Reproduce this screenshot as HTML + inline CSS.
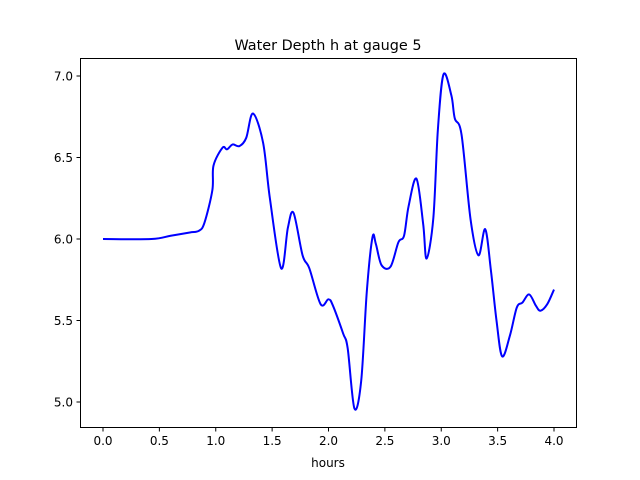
<!DOCTYPE html>
<html><head><meta charset="utf-8"><style>body{margin:0;background:#fff}svg{display:block;font-family:"DejaVu Sans","Liberation Sans",sans-serif}</style></head>
<body>
<svg width="640" height="480">
<rect width="640" height="480" fill="#fff"/>
<text x="328" y="50" font-size="14.4" text-anchor="middle">Water Depth h at gauge 5</text>
<g id="axes"></g>
<path id="line" fill="none" stroke="#0000ff" stroke-width="2" stroke-linejoin="round"/>
<rect x="80.5" y="58.5" width="496" height="369" fill="none" stroke="#000" stroke-width="1"/>
<text x="328" y="467" font-size="12" text-anchor="middle">hours</text>
</svg>
<script>
const times=[0,0.43,0.6,0.77,0.85,0.9,0.97,0.98,1.06,1.1,1.15,1.21,1.27,1.33,1.42,1.48,1.58,1.64,1.69,1.77,1.83,1.93,2.0,2.04,2.13,2.17,2.23,2.29,2.34,2.39,2.42,2.47,2.55,2.62,2.67,2.71,2.78,2.84,2.87,2.93,2.97,3.02,3.09,3.12,3.18,3.26,3.33,3.39,3.44,3.49,3.54,3.61,3.67,3.72,3.78,3.84,3.88,3.94,4.0];
const depths=[6.0,6.0,6.02,6.04,6.05,6.1,6.3,6.45,6.56,6.55,6.58,6.57,6.62,6.77,6.59,6.25,5.82,6.07,6.16,5.9,5.82,5.6,5.63,5.59,5.42,5.33,4.96,5.13,5.68,6.01,5.97,5.84,5.83,5.98,6.02,6.2,6.37,6.09,5.88,6.13,6.67,7.01,6.88,6.74,6.64,6.12,5.9,6.06,5.81,5.5,5.28,5.41,5.58,5.61,5.66,5.59,5.56,5.6,5.69];
const xTicks=[0,0.5,1,1.5,2,2.5,3,3.5,4];
const xTickLabels=["0.0","0.5","1.0","1.5","2.0","2.5","3.0","3.5","4.0"];
const yTicks=[5,5.5,6,6.5,7];
const yTickLabels=["5.0","5.5","6.0","6.5","7.0"];
const X=t=>103+t*112.75, Y=h=>402-(h-5)*163;
const NS="http://www.w3.org/2000/svg", g=document.getElementById('axes');
function mk(tag,a){const e=document.createElementNS(NS,tag);for(const k in a)e.setAttribute(k,a[k]);g.appendChild(e);return e;}
xTicks.forEach((t,i)=>{const x=X(t);
const l=mk('line',{x1:x,x2:x,y1:428,y2:431.5,stroke:'#000'});


const s=mk('text',{x:x,y:445,'font-size':12,'text-anchor':'middle'});s.textContent=xTickLabels[i];

});
yTicks.forEach((v,i)=>{const y=Y(v);
const l=mk('line',{x1:76.5,x2:80,y1:y,y2:y,stroke:'#000'});


const s=mk('text',{x:73,y:y+4.5,'font-size':12,'text-anchor':'end'});s.textContent=yTickLabels[i];

});
const P=times.map((t,i)=>[X(t),Y(depths[i])]);
let d='M'+P[0][0]+','+P[0][1];
for(let i=0;i<P.length-1;i++){const p0=P[Math.max(0,i-1)],p1=P[i],p2=P[i+1],p3=P[Math.min(P.length-1,i+2)];
d+=' C'+(p1[0]+(p2[0]-p0[0])/6)+','+(p1[1]+(p2[1]-p0[1])/6)+' '+(p2[0]-(p3[0]-p1[0])/6)+','+(p2[1]-(p3[1]-p1[1])/6)+' '+p2[0]+','+p2[1];}
document.getElementById('line').setAttribute('d',d);
</script>
</body></html>
